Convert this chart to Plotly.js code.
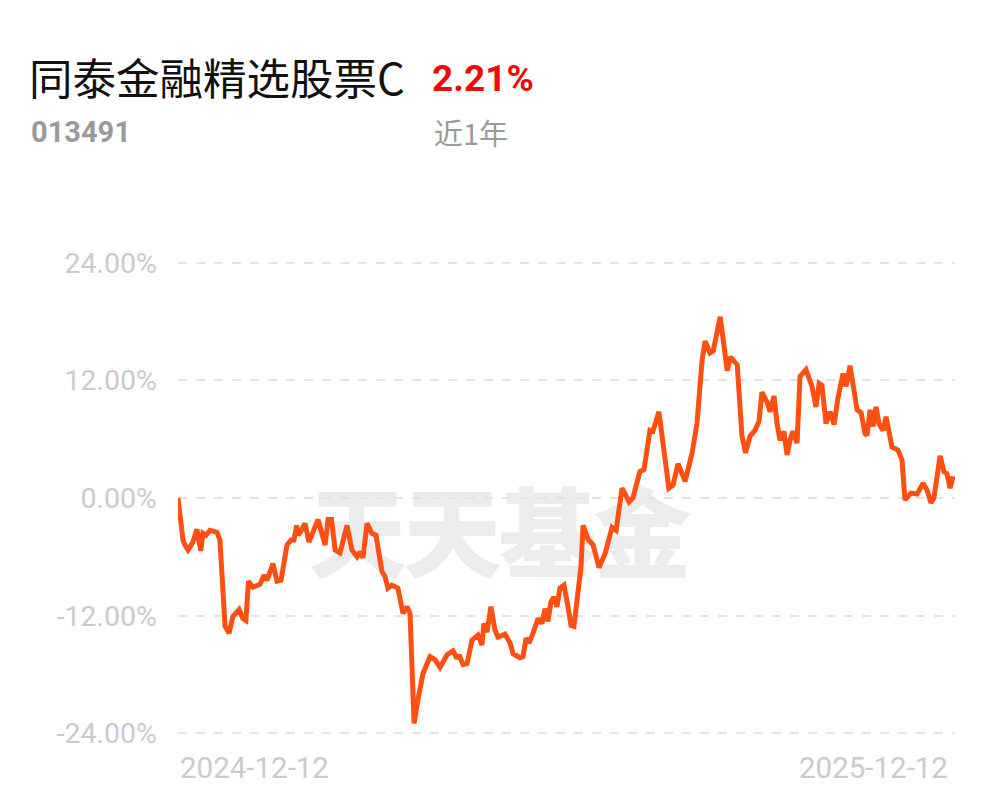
<!DOCTYPE html>
<html>
<head>
<meta charset="utf-8">
<script src="https://cdn.plot.ly/plotly-3.0.1.min.js"></script>
<style>
  html, body { margin: 0; padding: 0; background: #ffffff; }
  #wrap { position: relative; width: 997px; height: 802px; overflow: hidden; }
  #wm { position: absolute; left: 0; width: 997px; top: 478px; text-align: center;
        font-family: "Noto Sans CJK SC", sans-serif; font-weight: 900; font-size: 98px;
        color: #ececec; letter-spacing: -3px; line-height: 1; z-index: 0; padding-left: 0px; }
  #chart { position: absolute; left: 0; top: 0; width: 997px; height: 802px; z-index: 1; }
</style>
</head>
<body>
<div id="wrap">
  <div id="wm">天天基金</div>
  <div id="chart"></div>
</div>
<script>
// ---- data ----
const fundName = "同泰金融精选股票C";
const fundCode = "013491";
const periodLabel = "近1年";
const periodReturn = "2.21%";
const startDate = "2024-12-12";
const endDate = "2025-12-12";

// days after start date
const dayOffsets = [0, 2.35, 3.3, 4.7, 7.0, 8.9, 10.7, 11.7, 13.2, 15.0, 18.3, 19.7, 22.1, 24.0, 25.8, 28.7,
  30.5, 31.9, 33.1, 35.2, 38.5, 40.4, 41.8, 44.6, 46.5, 48.4, 51.2, 53.1, 54.5, 55.7, 56.6, 59.7,
  61.5, 63.4, 65.8, 69.1, 70.5, 72.1, 73.8, 76.1, 79.4, 81.7, 84.1, 85.5, 86.9, 88.8, 91.1, 93.0,
  95.8, 97.2, 98.6, 100.5, 103.3, 105.7, 107.6, 109.0, 110.9, 112.7, 115.1, 118.4, 120.7, 123.1,
  126.4, 129.2, 131.1, 132.0, 133.9, 135.8, 138.1, 140.9, 142.8, 143.7, 145.2, 147.0, 148.9, 150.3,
  153.6, 156.0, 157.4, 160.7, 162.1, 163.5, 164.9, 166.8, 169.1, 171.0, 172.4, 173.8, 175.2, 176.6,
  178.0, 179.4, 181.3, 183.2, 184.6, 186.0, 187.9, 189.3, 190.3, 192.6, 195.0, 197.8, 200.6, 203.9,
  205.8, 208.6, 211.9, 213.7, 217.0, 218.9, 221.7, 223.1, 225.9, 230.6, 232.5, 234.9, 238.2, 241.5,
  243.8, 246.2, 247.6, 249.9, 251.4, 254.7, 258.0, 259.4, 262.7, 264.9, 266.6, 268.7, 271.0, 272.9,
  274.3, 276.7, 278.1, 280.0, 281.4, 282.8, 284.6, 286.1, 287.5, 288.9, 290.8, 292.2, 295.0, 297.8,
  299.7, 301.2, 302.5, 304.4, 306.3, 308.2, 310.0, 312.4, 313.8, 315.7, 319.0, 320.9, 322.7, 323.7,
  325.1, 326.5, 327.9, 329.3, 331.2, 332.6, 335.4, 338.2, 340.1, 341.5, 344.3, 347.2, 350.0, 351.9,
  353.7, 355.1, 358.0, 359.8, 361.2, 362.7, 364.1];

// cumulative return, %
const returns = [0.0, -4.3, -4.8, -5.3, -4.5, -3.2, -5.4, -3.6, -3.8, -3.3, -3.5, -4.3, -13.1, -13.8, -12.1, -11.4,
  -12.3, -12.5, -8.5, -9.1, -8.8, -7.9, -8.4, -6.7, -8.5, -8.4, -4.8, -4.3, -4.3, -2.8, -3.8, -2.6,
  -4.5, -3.4, -2.2, -4.8, -2.2, -2.2, -5.3, -5.6, -2.8, -5.3, -6.0, -5.5, -6.1, -2.6, -3.6, -3.8,
  -7.5, -8.0, -9.2, -8.9, -9.2, -11.8, -11.1, -11.8, -23.0, -20.6, -17.9, -16.2, -16.5, -17.3,
  -16.0, -15.6, -16.4, -16.0, -17.0, -16.9, -14.5, -14.0, -15.0, -12.8, -13.7, -11.1, -13.5, -14.2,
  -13.9, -14.8, -15.9, -16.3, -16.2, -14.3, -14.8, -13.8, -12.3, -12.8, -11.3, -12.6, -10.6, -10.1,
  -11.1, -9.2, -8.9, -11.1, -13.0, -13.1, -9.7, -7.0, -2.8, -4.2, -4.8, -7.1, -5.7, -3.0,
  -3.3, 1.0, -0.4, 0.0, 2.7, 2.9, 6.9, 6.8, 8.8, 1.0, 1.3, 3.5, 1.7, 4.6,
  7.6, 14.1, 16.0, 14.8, 15.0, 18.5, 13.0, 14.4, 13.6, 6.4, 4.6, 6.3, 6.9, 7.8,
  10.8, 9.8, 8.8, 10.4, 7.6, 5.9, 6.8, 4.4, 5.9, 6.8, 5.6, 12.4, 13.1, 11.4,
  9.3, 11.7, 11.5, 7.6, 8.8, 7.5, 10.2, 12.7, 11.4, 13.5, 9.0, 8.7, 6.6, 6.4,
  9.0, 7.3, 9.3, 7.6, 6.9, 8.3, 5.2, 4.9, 3.9, -0.2, 0.5, 0.4, 1.5, 0.8,
  -0.5, 0.0, 4.3, 2.7, 2.5, 1.0, 2.21];

const yTickValues = [24, 12, 0, -12, -24];
const yTickLabels = ["24.00%", "12.00%", "0.00%", "-12.00%", "-24.00%"];

// ---- build ----
const t0 = Date.parse(startDate + "T00:00:00Z");
const dates = dayOffsets.map(d => new Date(t0 + d * 86400000).toISOString().slice(0, 19).replace("T", " "));

const trace = {
  x: dates,
  y: returns,
  type: "scatter",
  mode: "lines",
  line: { color: "#ff5012", width: 5, shape: "linear" },
  hoverinfo: "skip"
};

const greyTick = "#cbcbcb";
const M = { l: 178, r: 42, t: 258, b: 64 };
const PH = 802 - M.t - M.b;
const layout = {
  width: 997,
  height: 802,
  margin: { l: M.l, r: M.r, t: M.t, b: M.b, pad: 0 },
  paper_bgcolor: "rgba(0,0,0,0)",
  plot_bgcolor: "rgba(0,0,0,0)",
  showlegend: false,
  xaxis: {
    type: "date",
    range: [startDate, endDate],
    showgrid: false,
    zeroline: false,
    showline: false,
    showticklabels: false,
    ticks: ""
  },
  yaxis: {
    range: [-24.5, 24.5],
    tickvals: yTickValues,
    ticktext: yTickLabels,
    showgrid: true,
    gridcolor: "#e4e4e4",
    gridwidth: 2,
    griddash: "dash",
    zeroline: false,
    showline: false,
    ticks: "",
    ticklabelstandoff: 20,
    tickfont: { family: "Roboto, sans-serif", size: 28.5, color: greyTick }
  },
  annotations: []
};

Plotly.newPlot("chart", [trace], layout, { displayModeBar: false, staticPlot: true }).then(() => {
  // texts positioned in page pixels
  const txt = [
    { text: fundName, x: 27, y: 77, size: 43.5, color: "#111111", weight: 400, family: "'Noto Sans CJK SC', sans-serif", anchor: "left" },
    { text: periodReturn, x: 430, y: 78, size: 37, color: "#ee0a0a", weight: 700, family: "Roboto, sans-serif", anchor: "left" },
    { text: fundCode, x: 29, y: 132, size: 29, color: "#9a9a9a", weight: 700, family: "Roboto, sans-serif", anchor: "left" },
    { text: periodLabel, x: 432, y: 132, size: 29, color: "#9a9a9a", weight: 400, family: "'Noto Sans CJK SC', sans-serif", anchor: "left" },
    { text: startDate, x: 178, y: 768, size: 29.5, color: greyTick, weight: 400, family: "Roboto, sans-serif", anchor: "left" },
    { text: endDate, x: 950, y: 768, size: 29.5, color: greyTick, weight: 400, family: "Roboto, sans-serif", anchor: "right" }
  ];
  const ann = txt.map(h => ({ xref: "paper", yref: "paper",
      x: (h.x - M.l) / (997 - M.l - M.r), y: (802 - M.b - h.y) / PH, xanchor: h.anchor, yanchor: "middle",
      text: h.text, showarrow: false,
      font: { family: h.family, size: h.size, color: h.color, weight: h.weight } }));
  Plotly.relayout("chart", { annotations: ann });
});
</script>
</body>
</html>
